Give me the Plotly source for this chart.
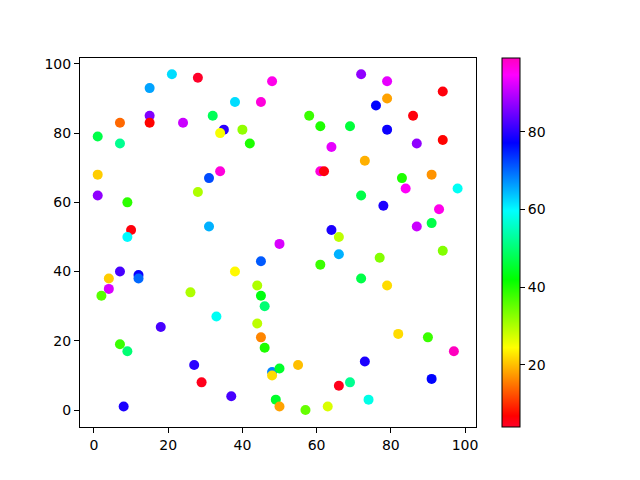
import plotly.graph_objects as go

x_vals = [21, 28, 15, 48, 45, 38, 15, 15, 7, 24, 32, 35, 34, 40, 42, 1, 7, 1, 34, 31,
          1, 9, 28, 10, 9, 31, 50,
          72, 79, 94, 79, 76, 86, 58, 61, 69, 79, 87, 94, 64, 73, 61, 62, 83, 91, 84,
          98, 72, 78, 93, 87, 91, 64, 66,
          45, 7, 4, 12, 12, 38, 4, 2, 26, 44, 45, 46, 33, 18, 44, 45, 46, 7, 9, 27,
          29, 37, 8, 48, 48, 50, 49, 50,
          94, 66, 77, 61, 72, 79, 82, 90, 97, 73, 55, 91, 66, 69, 74, 63, 57]
y_vals = [97, 96, 93, 95, 89, 89, 85, 83, 83, 83, 85, 81, 80, 81, 77, 79, 77, 68, 69, 67,
          62, 60, 63, 52, 50, 53, 48,
          97, 95, 92, 90, 88, 85, 85, 82, 82, 81, 77, 78, 76, 72, 69, 69, 67, 68, 64,
          64, 62, 59, 58, 53, 54, 52, 50,
          43, 40, 38, 39, 38, 40, 35, 33, 34, 36, 33, 30, 27, 24, 25, 21, 18, 19, 17, 13,
          8, 4, 1, 11, 10, 12, 3, 1,
          46, 45, 44, 42, 38, 36, 22, 21, 17, 14, 13, 9, 7, 8, 3, 1, 0]
c_vals = [62, 4, 66, 96, 97, 62, 86, 7, 14, 91, 48, 80, 25, 32, 40, 47, 52, 21, 97, 72,
          87, 39, 30, 6, 60, 65, 92,
          87, 93, 6, 18, 77, 6, 38, 40, 46, 78, 87, 7, 93, 19, 97, 6, 40, 17, 95,
          59, 47, 79, 96, 91, 47, 79, 29,
          71, 82, 21, 78, 70, 24, 92, 36, 30, 30, 43, 50, 59, 82, 29, 16, 40, 38, 50, 80,
          5, 82, 79, 68, 22, 45, 45, 18,
          33, 65, 33, 38, 47, 22, 22, 38, 99, 79, 20, 77, 5, 52, 58, 27, 35]

x_ticks = [0, 20, 40, 60, 80, 100]
y_ticks = [0, 20, 40, 60, 80, 100]
cbar_ticks = [20, 40, 60, 80]

gist_rainbow = [
    [0.0, "rgb(255,0,41)"], [0.03, "rgb(255,0,0)"], [0.215, "rgb(255,255,0)"],
    [0.4, "rgb(0,255,0)"], [0.586, "rgb(0,255,255)"], [0.77, "rgb(0,0,255)"],
    [0.954, "rgb(255,0,255)"], [1.0, "rgb(255,0,191)"],
]

fig = go.Figure(go.Scatter(
    x=x_vals, y=y_vals, mode="markers",
    marker=dict(size=10, color=c_vals, colorscale=gist_rainbow,
                cmin=min(c_vals), cmax=max(c_vals),
                line=dict(width=0),
                colorbar=dict(x=1.066, xanchor="left", xpad=0, ypad=0,
                              y=0, yanchor="bottom",
                              len=1, lenmode="fraction", thickness=18,
                              outlinewidth=1, outlinecolor="black",
                              tickvals=cbar_ticks, ticks="outside", ticklen=5,
                              tickcolor="black", tickfont=dict(size=14, color="black"))),
    showlegend=False,
))

axis_common = dict(showline=True, mirror=True, linecolor="black", linewidth=1,
                   ticks="outside", ticklen=5, tickcolor="black", showgrid=False,
                   zeroline=False, tickfont=dict(size=14, color="black"))
fig.update_xaxes(range=[-3.77, 102.96], tickvals=x_ticks, **axis_common)
fig.update_yaxes(range=[-4.9, 101.7], tickvals=y_ticks, **axis_common)

fig.update_layout(width=640, height=480, margin=dict(l=72, r=172, t=50, b=61),
                  paper_bgcolor="white", plot_bgcolor="white",
                  font=dict(family="DejaVu Sans", size=14, color="black"))

fig.write_html("out.html")
